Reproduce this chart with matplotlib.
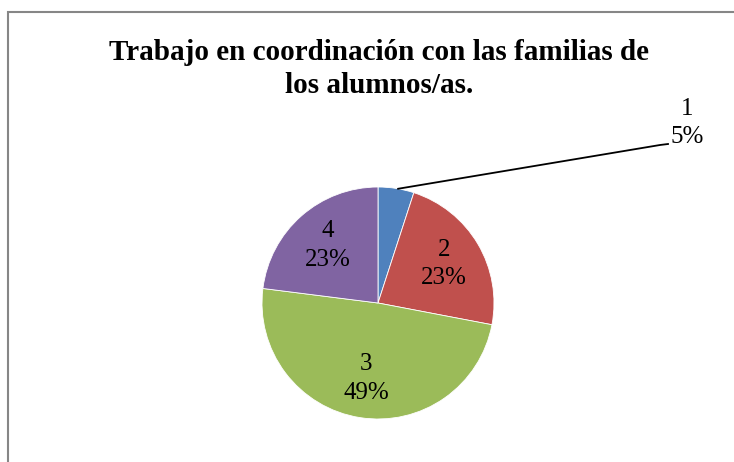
import matplotlib.pyplot as plt
import numpy as np
from matplotlib.patches import Rectangle

# data
categorias = ["1", "2", "3", "4"]
porcentajes = [5, 23, 49, 23]
colores = ["#4F81BD", "#C0504D", "#9BBB59", "#8064A2"]
titulo = "Trabajo en coordinación con las familias de\nlos alumnos/as."

plt.rcParams['font.family'] = ['Liberation Serif', 'DejaVu Serif']

fig = plt.figure(figsize=(7.34, 4.62), dpi=100)
ax = fig.add_axes([0, 0, 1, 1])
ax.set_xlim(0, 734)
ax.set_ylim(0, 462)
ax.set_aspect('equal')
ax.axis('off')

# chart frame
fig.patches.append(Rectangle((8 / 734, -0.1), 1.1, (462 - 12) / 462 + 0.1,
                             transform=fig.transFigure, fill=False,
                             edgecolor='#868686', linewidth=1.5))

cx, cy, r = 378, 462 - 303, 116
wedges, texts = ax.pie(porcentajes, colors=colores, startangle=90, counterclock=False,
                       center=(cx, cy), radius=r, labels=None,
                       wedgeprops={'linewidth': 0.6, 'edgecolor': 'white'})
ax.set_xlim(0, 734)
ax.set_ylim(0, 462)

for i, w in enumerate(wedges):
    etiqueta = f"{categorias[i]}\n{porcentajes[i]}%"
    ang = np.deg2rad((w.theta1 + w.theta2) / 2)
    if i == 0:
        # leader line to outside label
        a0 = np.deg2rad(w.theta2 - 10)
        x0, y0 = cx + r * np.cos(a0), cy + r * np.sin(a0)
        x1, y1 = cx + 282, cy + 158
        ax.plot([x0, x1, x1 + 8], [y0, y1, y1 + 1], color='black', linewidth=1.3)
        ax.text(x1 + 27, y1 + 22, etiqueta, ha='center', va='center',
                fontsize=18, linespacing=1.4)
    else:
        d = 0.66 * r
        ax.text(cx + d * np.cos(ang), cy + d * np.sin(ang), etiqueta,
                ha='center', va='center', fontsize=18, linespacing=1.4)

fig.text(379 / 734, 1 - 69 / 462, titulo, ha='center', va='center',
         fontsize=21, fontweight='bold', linespacing=1.27)

fig.savefig("out.png", dpi=100)
